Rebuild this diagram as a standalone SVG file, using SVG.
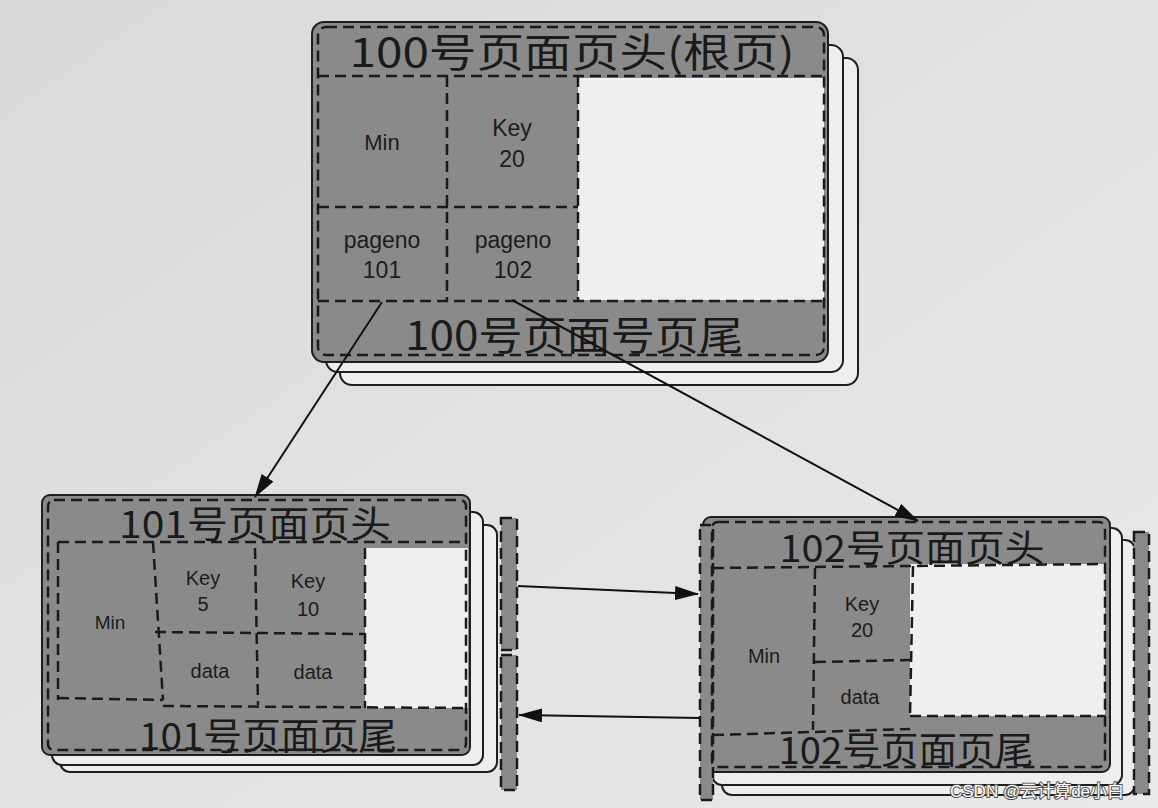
<svg xmlns="http://www.w3.org/2000/svg" width="1158" height="808" viewBox="0 0 1158 808">
<defs>
<linearGradient id="bg" x1="0" y1="0" x2="1" y2="1">
<stop offset="0" stop-color="#d9d9d9"/>
<stop offset="0.5" stop-color="#e2e2e2"/>
<stop offset="1" stop-color="#e9e9e9"/>
</linearGradient>
<marker id="ah" viewBox="0 0 24 14" refX="23" refY="7" markerWidth="24" markerHeight="14" markerUnits="userSpaceOnUse" orient="auto">
<path d="M0,0 L24,7 L0,14 Z" fill="#111"/>
</marker>
<style>
.page{fill:#8a8a8a;stroke:#1e1e1e;stroke-width:2}
.back{fill:#eeeeee;stroke:#1e1e1e;stroke-width:2}
.white{fill:#efefef}
.dash{fill:none;stroke:#1a1a1a;stroke-width:2.5;stroke-dasharray:11 6}
.strip{fill:#8a8a8a;stroke:#1a1a1a;stroke-width:2.5;stroke-dasharray:11 6}
.big{font-family:"Noto Sans CJK SC","Liberation Sans",sans-serif;fill:#1a1a1a;text-anchor:middle}
.cell{font-family:"Liberation Sans","Noto Sans",sans-serif;fill:#1c1c1c;text-anchor:middle}
.conn{stroke:#111;stroke-width:2;fill:none;marker-end:url(#ah)}
.wm{font-family:"Liberation Sans","Noto Sans CJK SC",sans-serif;font-size:17px;fill:#ffffff;stroke:#555555;stroke-width:2;paint-order:stroke}
</style>
</defs>
<rect x="0" y="0" width="1158" height="808" fill="url(#bg)"/>

<g id="node-100">
<rect class="back" x="340" y="58" width="518" height="327" rx="12"/>
<rect class="back" x="326" y="45" width="517" height="327" rx="12"/>
<rect class="page" x="312" y="22" width="516" height="340" rx="12"/>
<rect class="white" x="578" y="78" width="246" height="222"/>
<rect class="dash" x="318" y="27" width="506" height="328" rx="8"/>
<line class="dash" x1="318" y1="76" x2="824" y2="76"/>
<line class="dash" x1="447" y1="76" x2="447" y2="300"/>
<line class="dash" x1="578" y1="76" x2="578" y2="300"/>
<line class="dash" x1="318" y1="207" x2="578" y2="207"/>
<line class="dash" x1="318" y1="301" x2="824" y2="301"/>
<text class="big" x="572" y="67" font-size="40" textLength="445" lengthAdjust="spacingAndGlyphs">100号页面页头(根页)</text>
<text class="big" x="574" y="350" font-size="40" textLength="338" lengthAdjust="spacingAndGlyphs">100号页面号页尾</text>
<text class="cell" x="382" y="150" font-size="22">Min</text>
<text class="cell" x="512" y="136" font-size="23">Key</text>
<text class="cell" x="512" y="167" font-size="23">20</text>
<text class="cell" x="382" y="248" font-size="23">pageno</text>
<text class="cell" x="382" y="278" font-size="23">101</text>
<text class="cell" x="513" y="248" font-size="23">pageno</text>
<text class="cell" x="513" y="278" font-size="23">102</text>
</g>

<g id="node-101">
<rect class="back" x="60" y="525" width="437" height="247" rx="10"/>
<rect class="back" x="52" y="512" width="431" height="253" rx="10"/>
<rect class="page" x="42" y="495" width="428" height="260" rx="8"/>
<rect class="white" x="365" y="548" width="103" height="160"/>
<rect class="dash" x="48" y="500" width="418" height="250" rx="6"/>
<line class="dash" x1="58" y1="542" x2="466" y2="542"/>
<line class="dash" x1="58" y1="542" x2="58" y2="700"/>
<line class="dash" x1="153" y1="542" x2="163" y2="700"/>
<line class="dash" x1="58" y1="698" x2="163" y2="700"/>
<line class="dash" x1="255" y1="548" x2="258" y2="705"/>
<line class="dash" x1="365" y1="548" x2="365" y2="708"/>
<line class="dash" x1="155" y1="632" x2="365" y2="634"/>
<line class="dash" x1="163" y1="706" x2="466" y2="708"/>
<rect class="strip" x="501" y="518" width="16" height="132"/>
<rect class="strip" x="501" y="655" width="16" height="135"/>
<text class="big" x="255" y="538" font-size="37" textLength="272" lengthAdjust="spacingAndGlyphs">101号页面页头</text>
<text class="big" x="268" y="750" font-size="37" textLength="258" lengthAdjust="spacingAndGlyphs">101号页面页尾</text>
<text class="cell" x="110" y="629" font-size="19">Min</text>
<text class="cell" x="203" y="585" font-size="20">Key</text>
<text class="cell" x="203" y="611" font-size="20">5</text>
<text class="cell" x="308" y="588" font-size="20">Key</text>
<text class="cell" x="308" y="616" font-size="20">10</text>
<text class="cell" x="210" y="678" font-size="20">data</text>
<text class="cell" x="313" y="679" font-size="20">data</text>
</g>

<g id="node-102">
<rect class="back" x="722" y="540" width="413" height="255" rx="10"/>
<rect class="back" x="712" y="528" width="410" height="257" rx="10"/>
<rect class="page" x="703" y="517" width="407" height="255" rx="8"/>
<rect class="white" x="910" y="564" width="195" height="152"/>
<rect class="strip" x="700" y="525" width="13" height="275"/>
<rect class="dash" x="712" y="522" width="393" height="245" rx="6"/>
<line class="dash" x1="713" y1="568" x2="1105" y2="564"/>
<line class="dash" x1="815" y1="568" x2="813" y2="730"/>
<line class="dash" x1="913" y1="566" x2="910" y2="716"/>
<line class="dash" x1="815" y1="662" x2="912" y2="660"/>
<line class="dash" x1="713" y1="735" x2="910" y2="729"/>
<line class="dash" x1="910" y1="716" x2="1105" y2="716"/>
<rect class="strip" x="1134" y="532" width="15" height="262"/>
<text class="big" x="912" y="562" font-size="37" textLength="265" lengthAdjust="spacingAndGlyphs">102号页面页头</text>
<text class="big" x="906" y="764" font-size="37" textLength="255" lengthAdjust="spacingAndGlyphs">102号页面页尾</text>
<text class="cell" x="764" y="663" font-size="20">Min</text>
<text class="cell" x="862" y="611" font-size="20">Key</text>
<text class="cell" x="862" y="637" font-size="20">20</text>
<text class="cell" x="860" y="704" font-size="20">data</text>
</g>

<g id="connectors">
<line class="conn" x1="382" y1="302" x2="255" y2="497"/>
<line class="conn" x1="512" y1="300" x2="918" y2="521"/>
<line class="conn" x1="518" y1="586" x2="698" y2="594"/>
<line class="conn" x1="700" y1="718" x2="519" y2="715"/>
</g>

<text class="wm" x="950" y="797">CSDN @云计算de小白</text>
</svg>
